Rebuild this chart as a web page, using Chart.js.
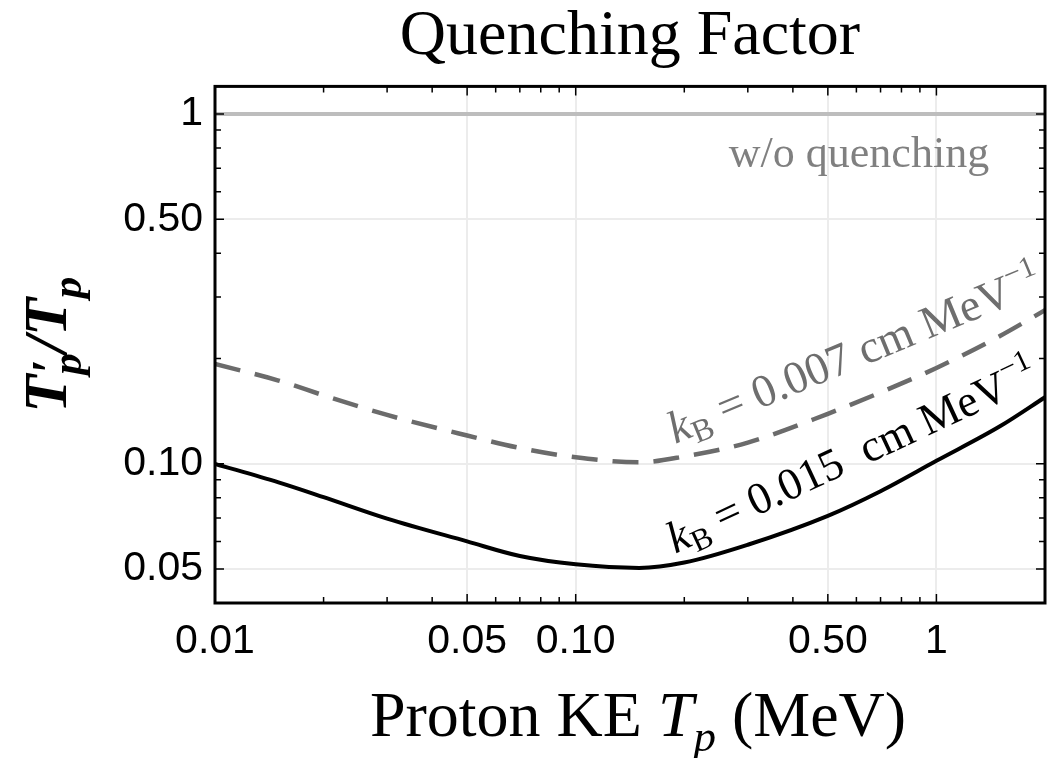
<!DOCTYPE html>
<html>
<head>
<meta charset="utf-8">
<script src="https://cdn.jsdelivr.net/npm/chart.js@4.4.1/dist/chart.umd.min.js"></script>
<style>
  html, body { margin: 0; padding: 0; background: #fff; }
  #wrap { width: 1059px; height: 758px; position: relative; }
</style>
</head>
<body>
<div id="wrap"><canvas id="quench"></canvas></div>
<script>
// proton kinetic energy Tp (MeV)
const energy = [0.01, 0.015, 0.02, 0.03, 0.05, 0.07, 0.1, 0.15, 0.2, 0.3, 0.5, 0.7, 1, 1.5, 2];
// T'p / Tp, kB = 0.015 cm/MeV
const quenchKb015 = [0.100, 0.0885, 0.0803, 0.0697, 0.0600, 0.0545, 0.0516, 0.0504, 0.0522, 0.0587, 0.0710, 0.0835, 0.102, 0.128, 0.155];
// T'p / Tp, kB = 0.007 cm/MeV
const quenchKb007 = [0.193, 0.173, 0.157, 0.138, 0.1205, 0.111, 0.1044, 0.101, 0.105, 0.115, 0.139, 0.160, 0.188, 0.232, 0.275];
// no quenching
const noQuenchE = [0.01, 2];
const noQuench = [1, 1];

const xTickValues = [0.01, 0.05, 0.1, 0.5, 1];
const xTickLabels = ["0.01", "0.05", "0.10", "0.50", "1"];
const yTickValues = [0.05, 0.1, 0.5, 1];
const yTickLabels = ["0.05", "0.10", "0.50", "1"];

const X_MIN = 0.01, X_MAX = 2, Y_MIN = 0.04, Y_MAX = 1.2;
const SERIF = '"Liberation Serif", "Times New Roman", serif';
const SANS = '"Liberation Sans", Arial, sans-serif';

function toPoints(xs, ys) {
    return xs.map((v, i) => ({ x: v, y: ys[i] }));
}

// 1..9 x 10^n between min and max
function logTicks(min, max) {
    const out = [];
    for (let e = Math.floor(Math.log10(min)); e <= Math.ceil(Math.log10(max)); e++) {
        for (let m = 1; m <= 9; m++) {
            const v = Number((m * Math.pow(10, e)).toPrecision(6));
            if (v >= min * 0.9999 && v <= max * 1.0001) out.push(v);
        }
    }
    return out;
}

function findIdx(list, v) {
    return list.findIndex(t => Math.abs(t - v) <= 1e-6 * t);
}

function gridColor(c, values, min, max) {
    const v = c.tick && c.tick.value;
    if (v == null) return "rgba(0,0,0,0)";
    if (findIdx(values, v) >= 0 && v > min * 1.001 && v < max * 0.999) return "#ececec";
    return "rgba(0,0,0,0)";
}

// text made of several pieces (sub/superscripts)
function richWidth(ctx, parts) {
    let w = 0;
    parts.forEach(p => {
        ctx.font = p.font;
        if (!p.overlay) w += ctx.measureText(p.text).width;
    });
    return w;
}

function drawRich(ctx, parts, x, y, angle, align, color) {
    ctx.save();
    ctx.translate(x, y);
    ctx.rotate(angle);
    ctx.fillStyle = color;
    ctx.textAlign = "left";
    ctx.textBaseline = "alphabetic";
    const total = richWidth(ctx, parts);
    let cx = align === "center" ? -total / 2 : align === "right" ? -total : 0;
    parts.forEach(p => {
        ctx.font = p.font;
        ctx.fillText(p.text, cx + (p.dx || 0), p.dy || 0);
        if (!p.overlay) cx += ctx.measureText(p.text).width;
    });
    ctx.restore();
}

const framePlugin = {
    id: "frame",
    afterDatasetsDraw(chart) {
        const { ctx, chartArea: a, scales: { x, y } } = chart;
        ctx.save();
        ctx.strokeStyle = "#000";
        ctx.lineWidth = 1.5;

        // ticks point inward, on all four sides
        x.ticks.forEach(t => {
            const px = x.getPixelForValue(t.value);
            if (px <= a.left + 2 || px >= a.right - 2) return;
            const len = findIdx(xTickValues, t.value) >= 0 ? 9 : 6;
            ctx.beginPath();
            ctx.moveTo(px, a.bottom); ctx.lineTo(px, a.bottom - len);
            ctx.moveTo(px, a.top); ctx.lineTo(px, a.top + len);
            ctx.stroke();
        });
        y.ticks.forEach(t => {
            const py = y.getPixelForValue(t.value);
            if (py <= a.top + 2 || py >= a.bottom - 2) return;
            const len = findIdx(yTickValues, t.value) >= 0 ? 9 : 6;
            ctx.beginPath();
            ctx.moveTo(a.left, py); ctx.lineTo(a.left + len, py);
            ctx.moveTo(a.right, py); ctx.lineTo(a.right - len, py);
            ctx.stroke();
        });

        ctx.lineWidth = 3;
        ctx.strokeRect(a.left, a.top, a.right - a.left, a.bottom - a.top);
        ctx.restore();
    },
    afterDraw(chart) {
        const { ctx, chartArea: a, scales: { x, y } } = chart;

        // x axis title
        drawRich(ctx, [
            { text: "Proton KE ", font: "64px " + SERIF },
            { text: "T", font: "italic 64px " + SERIF },
            { text: "p", font: "italic 45px " + SERIF, dy: 15 },
            { text: " (MeV)", font: "64px " + SERIF }
        ], (a.left + a.right) / 2 + 8, 736, 0, "center", "#000");

        // y axis title
        drawRich(ctx, [
            { text: "T", font: "italic bold 62px " + SERIF },
            { text: "\u2032", font: "bold 50px " + SERIF, dx: 2, overlay: true },
            { text: "p", font: "italic bold 43px " + SERIF, dy: 15 },
            { text: "/", font: "italic bold 62px " + SERIF },
            { text: "T", font: "italic bold 62px " + SERIF },
            { text: "p", font: "italic bold 43px " + SERIF, dy: 15 }
        ], 66, (a.top + a.bottom) / 2, -Math.PI / 2, "center", "#000");

        // curve labels
        ctx.save();
        ctx.font = "44px " + SERIF;
        ctx.fillStyle = "#808080";
        ctx.textAlign = "right";
        ctx.textBaseline = "alphabetic";
        ctx.fillText("w/o quenching", x.getPixelForValue(1.4), y.getPixelForValue(0.706));
        ctx.restore();

        drawRich(ctx, [
            { text: "k", font: "italic 46px " + SERIF },
            { text: "B", font: "32px " + SERIF, dy: 8 },
            { text: " = 0.007 cm MeV", font: "46px " + SERIF },
            { text: "\u22121", font: "30px " + SERIF, dy: -19 }
        ], x.getPixelForValue(0.1887), y.getPixelForValue(0.114), -22.5 * Math.PI / 180, "left", "#6e6e6e");

        drawRich(ctx, [
            { text: "k", font: "italic 45px " + SERIF },
            { text: "B", font: "31px " + SERIF, dy: 8 },
            { text: " = 0.015  cm MeV", font: "45px " + SERIF },
            { text: "\u22121", font: "30px " + SERIF, dy: -19 }
        ], x.getPixelForValue(0.1887), y.getPixelForValue(0.0553), -25 * Math.PI / 180, "left", "#000");
    }
};

new Chart(document.getElementById("quench"), {
    type: "line",
    data: {
        datasets: [
            {
                label: "kB = 0.015",
                data: toPoints(energy, quenchKb015),
                borderColor: "#000",
                borderWidth: 4,
                pointRadius: 0,
                cubicInterpolationMode: "monotone"
            },
            {
                label: "kB = 0.007",
                data: toPoints(energy, quenchKb007),
                borderColor: "#6b6b6b",
                borderWidth: 4.5,
                borderDash: [26, 15],
                pointRadius: 0,
                cubicInterpolationMode: "monotone"
            },
            {
                label: "w/o quenching",
                data: toPoints(noQuenchE, noQuench),
                borderColor: "#bdbdbd",
                borderWidth: 4,
                pointRadius: 0
            }
        ]
    },
    options: {
        responsive: true,
        maintainAspectRatio: false,
        animation: false,
        events: [],
        layout: { padding: { left: 0, right: 9, top: 0, bottom: 0 } },
        plugins: {
            legend: { display: false },
            tooltip: { enabled: false },
            title: {
                display: true,
                text: "Quenching Factor",
                color: "#000",
                fullSize: false,
                font: { family: SERIF, size: 64, weight: "normal", lineHeight: 1.1 },
                padding: { top: 2, bottom: 14 }
            }
        },
        scales: {
            x: {
                type: "logarithmic",
                min: X_MIN,
                max: X_MAX,
                afterBuildTicks: s => { s.ticks = logTicks(X_MIN, X_MAX).map(v => ({ value: v })); },
                afterFit: s => { s.height = 155; },
                border: { display: false },
                grid: { drawTicks: false, lineWidth: 2, color: c => gridColor(c, xTickValues, X_MIN, X_MAX) },
                ticks: {
                    autoSkip: false,
                    maxRotation: 0,
                    minRotation: 0,
                    padding: 14,
                    color: "#000",
                    font: { family: SANS, size: 41 },
                    callback: v => { const i = findIdx(xTickValues, v); return i < 0 ? "" : xTickLabels[i]; }
                }
            },
            y: {
                type: "logarithmic",
                min: Y_MIN,
                max: Y_MAX,
                afterBuildTicks: s => { s.ticks = logTicks(Y_MIN, Y_MAX).map(v => ({ value: v })); },
                afterFit: s => { s.width = 215; },
                border: { display: false },
                grid: { drawTicks: false, lineWidth: 2, color: c => gridColor(c, yTickValues, Y_MIN, Y_MAX) },
                ticks: {
                    autoSkip: false,
                    padding: 12,
                    color: "#000",
                    font: { family: SANS, size: 41 },
                    callback: v => { const i = findIdx(yTickValues, v); return i < 0 ? "" : yTickLabels[i]; }
                }
            }
        }
    },
    plugins: [framePlugin]
});
</script>
</body>
</html>
